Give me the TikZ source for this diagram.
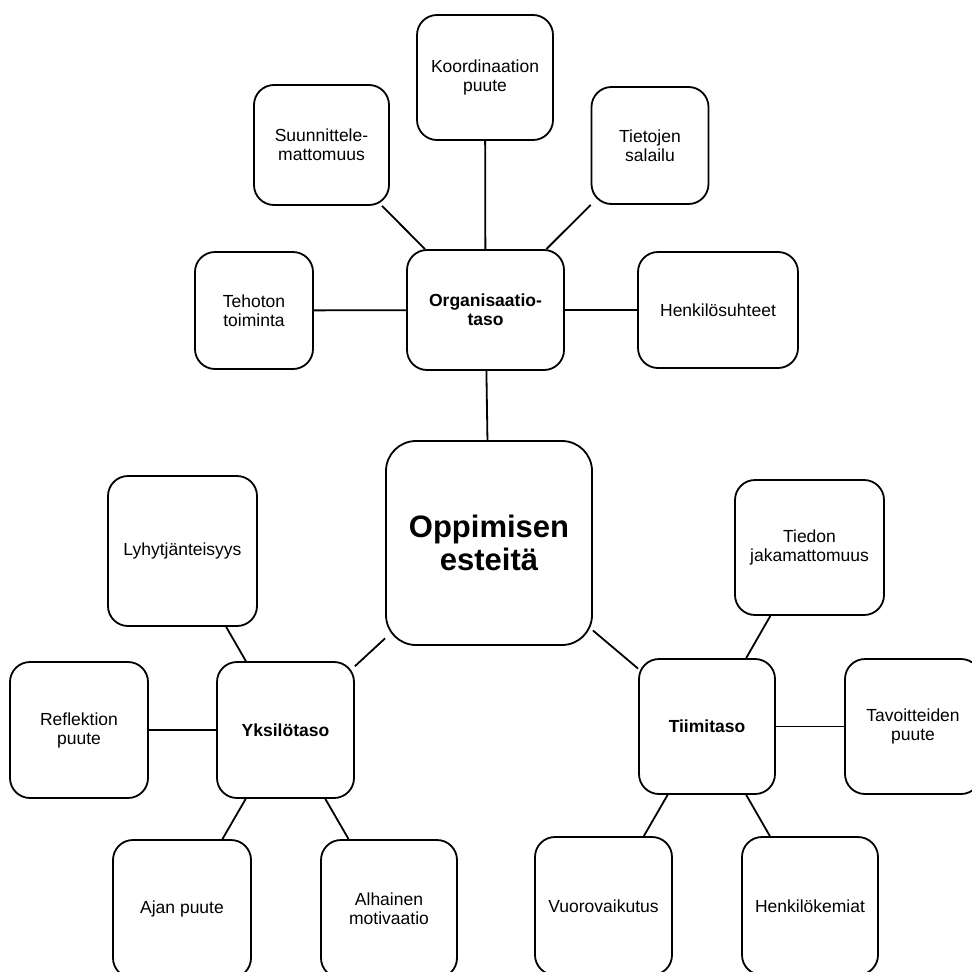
\documentclass[tikz,border=0pt]{standalone}
\usepackage{fontspec}
\setmainfont{Liberation Sans}
\begin{document}
\begin{tikzpicture}[x=1pt,y=-1pt,
  box/.style={draw=black, line width=1.8pt, rounded corners=20pt, fill=white,
    inner sep=0pt, align=center, font=\fontsize{17.5}{19}\selectfont},
  hub/.style={box, font=\fontsize{17.5}{19}\selectfont\bfseries},
  core/.style={box, rounded corners=30pt, font=\fontsize{31}{33}\selectfont\bfseries},
  link/.style={line width=1.8pt}]
\clip (0,0) rectangle (972,972);

% central topic
\node[core, minimum width=206pt, minimum height=204pt] (core) at (489,543) {Oppimisen\\esteitä};

% organisation level
\node[hub, minimum width=157pt, minimum height=120pt] (org) at (485.5,310) {Organisaatio-\\taso};
\node[box, minimum width=136pt, minimum height=125pt] (koord) at (485,77.5) {Koordinaation\\puute};
\node[box, minimum width=135pt, minimum height=120pt] (suun) at (321.5,145) {Suunnittele-\\mattomuus};
\node[box, minimum width=117pt, minimum height=117pt] (tiet) at (650,145.5) {Tietojen\\salailu};
\node[box, minimum width=118pt, minimum height=117pt] (teho) at (254,310.5) {Tehoton\\toiminta};
\node[box, minimum width=160pt, minimum height=116pt] (henk) at (718,310) {Henkilösuhteet};

% individual level
\node[hub, minimum width=137pt, minimum height=136pt] (yks) at (285.5,730) {Yksilötaso};
\node[box, minimum width=149pt, minimum height=150pt] (lyhyt) at (182.5,551) {Lyhytjänteisyys};
\node[box, minimum width=138pt, minimum height=136pt] (refl) at (79,730) {Reflektion\\puute};
\node[box, minimum width=138pt, minimum height=138pt] (ajan) at (182,909) {Ajan puute};
\node[box, minimum width=136pt, minimum height=138pt] (alh) at (389,909) {Alhainen\\motivaatio};

% team level
\node[hub, minimum width=136pt, minimum height=135pt] (tiimi) at (707,726.5) {Tiimitaso};
\node[box, minimum width=149pt, minimum height=135pt] (tiedon) at (809.5,547.5) {Tiedon\\jakamattomuus};
\node[box, minimum width=136pt, minimum height=135pt] (tavo) at (913,726.5) {Tavoitteiden\\puute};
\node[box, minimum width=137pt, minimum height=138pt] (vuoro) at (603.5,906) {Vuorovaikutus};
\node[box, minimum width=136pt, minimum height=138pt] (kemia) at (810,906) {Henkilökemiat};

% connectors
\draw[link] (core) -- (org);
\draw[link] (core) -- (yks);
\draw[link] (core) -- (tiimi);
\draw[link] (org) -- (koord);
\draw[link] (org) -- (suun);
\draw[link] (org) -- (tiet);
\draw[link] (org) -- (teho);
\draw[link] (org) -- (henk);
\draw[link] (yks) -- (lyhyt);
\draw[link] (yks) -- (refl);
\draw[link] (yks) -- (ajan);
\draw[link] (yks) -- (alh);
\draw[link] (tiimi) -- (tiedon);
\draw[link] (tiimi) -- (tavo);
\draw[link] (tiimi) -- (vuoro);
\draw[link] (tiimi) -- (kemia);
\end{tikzpicture}
\end{document}
